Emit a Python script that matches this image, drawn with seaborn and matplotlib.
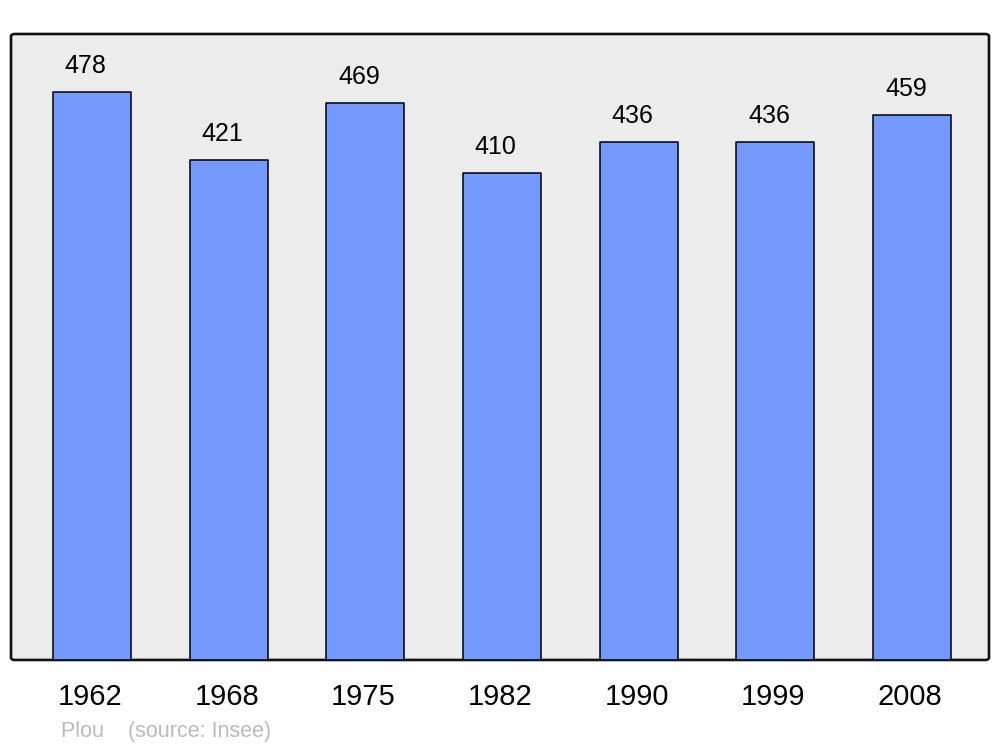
import matplotlib
matplotlib.use("Agg")
import matplotlib.pyplot as plt
from matplotlib.patches import FancyBboxPatch
from matplotlib.transforms import ScaledTranslation
import seaborn as sns
import pandas as pd

# data
years = ["1962", "1968", "1975", "1982", "1990", "1999", "2008"]
population = [478, 421, 469, 410, 436, 436, 459]

df = pd.DataFrame({"year": years, "pop": population})

sns.set_style("white")
plt.rcParams["font.family"] = ["Liberation Sans", "DejaVu Sans"]
plt.rcParams["text.color"] = "black"
plt.rcParams["xtick.color"] = "black"

fig = plt.figure(figsize=(10, 7.47), dpi=100)
ax = fig.add_axes([0.011, 0.1165, 0.978, 0.838])

sns.barplot(data=df, x="year", y="pop", color="#7499ff", saturation=1,
            width=0.57, edgecolor="black", linewidth=1.1, ax=ax, zorder=3)
for p in ax.patches:
    p.set_joinstyle("round")

ax.set_xlim(-0.593, 6.563)
ax.set_ylim(0, 527)

# rounded frame
ax.patch.set_visible(False)
for s in ax.spines.values():
    s.set_visible(False)
frame = FancyBboxPatch((0, 0), 1, 1, boxstyle="round,pad=0,rounding_size=0.004",
                       transform=ax.transAxes, facecolor="#ececec",
                       edgecolor="#111111", linewidth=1.9, zorder=0, clip_on=False)
ax.add_patch(frame)

for i, v in enumerate(population):
    ax.annotate(str(v), (i, v), xytext=(-4.5, 10), textcoords="offset points",
                ha="center", va="bottom", fontsize=18, color="black")

ax.set_xlabel("")
ax.set_ylabel("")
ax.set_yticks([])
ax.tick_params(axis="x", length=0, pad=16.5, labelsize=21, labelcolor="black")
shift = ScaledTranslation(-2 / 100, 0, fig.dpi_scale_trans)
for lab in ax.get_xticklabels():
    lab.set_transform(lab.get_transform() + shift)

fig.text(0.061, 0.021, "Plou    (source: Insee)", color="#bbbbbb",
         fontsize=15.5, ha="left", va="center")

fig.savefig("out.png", dpi=100)
